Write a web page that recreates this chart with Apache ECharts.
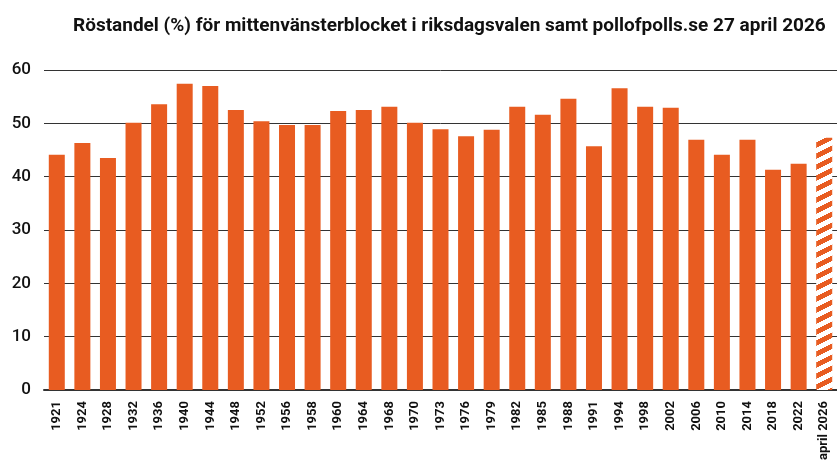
<!DOCTYPE html>
<html>
<head>
<meta charset="utf-8">
<script src="https://cdn.jsdelivr.net/npm/echarts@6/dist/echarts.min.js"></script>
<style>
  html, body { margin: 0; padding: 0; background: #fff; }
  #chart { width: 837px; height: 463px; }
</style>
</head>
<body>
<div id="chart"></div>
<script>
const years = ['1921', '1924', '1928', '1932', '1936', '1940', '1944', '1948', '1952', '1956',
  '1958', '1960', '1964', '1968', '1970', '1973', '1976', '1979', '1982', '1985',
  '1988', '1991', '1994', '1998', '2002', '2006', '2010', '2014', '2018', '2022', 'april 2026']
const shares = [44.1, 46.3, 43.5, 50.1, 53.6, 57.4, 57.0, 52.5, 50.4, 49.7,
  49.7, 52.3, 52.5, 53.1, 50.1, 48.9, 47.6, 48.8, 53.1, 51.6,
  54.6, 45.7, 56.6, 53.1, 52.9, 46.9, 44.1, 46.9, 41.3, 42.4, 47.3]
const yTicks = [0, 10, 20, 30, 40, 50, 60]

const orange = '#e85c21'

// randig fyllning för opinionsstapeln
function stripes () {
  const c = document.createElement('canvas')
  c.width = 22
  c.height = 11
  const ctx = c.getContext('2d')
  ctx.fillStyle = '#fff'
  ctx.fillRect(0, 0, 22, 11)
  ctx.fillStyle = orange
  for (let x = 0; x < 22; x++) {
    for (let y = 0; y < 11; y++) {
      const t = ((y + x / 2) % 11 + 11) % 11
      if (t < 5.5) ctx.fillRect(x, y, 1, 1)
    }
  }
  return c
}

const bars = shares.map(function (v, i) {
  if (i === shares.length - 1) {
    return { value: v, itemStyle: { color: { image: stripes(), repeat: 'repeat' } } }
  }
  return v
})

const myChart = echarts.init(document.getElementById('chart'))
const option = {
  animation: false,
  title: {
    text: 'Röstandel (%) för mittenvänsterblocket i riksdagsvalen samt pollofpolls.se 27 april 2026',
    left: 68,
    top: 12,
    textStyle: {
      fontFamily: 'Roboto',
      fontWeight: 700,
      fontSize: 19,
      color: '#111'
    }
  },
  grid: {
    left: 44,
    right: -3,
    top: 70,
    bottom: 73
  },
  xAxis: {
    type: 'category',
    data: years,
    axisLine: { lineStyle: { color: '#333', width: 2 } },
    axisTick: { show: false },
    axisLabel: {
      rotate: 90,
      interval: 0,
      margin: 11,
      fontFamily: 'Roboto',
      fontWeight: 700,
      fontSize: 13,
      color: '#111'
    }
  },
  yAxis: {
    type: 'value',
    min: yTicks[0],
    max: yTicks[yTicks.length - 1],
    interval: 10,
    axisLine: { show: false },
    axisTick: { show: false },
    axisLabel: {
      margin: 13,
      fontFamily: 'Roboto',
      fontWeight: 500,
      fontSize: 17,
      color: '#111'
    },
    splitLine: { lineStyle: { color: '#333', width: 1 } }
  },
  series: [
    {
      type: 'bar',
      data: bars,
      barWidth: 16,
      itemStyle: { color: orange }
    }
  ]
}
myChart.setOption(option)
</script>
</body>
</html>
